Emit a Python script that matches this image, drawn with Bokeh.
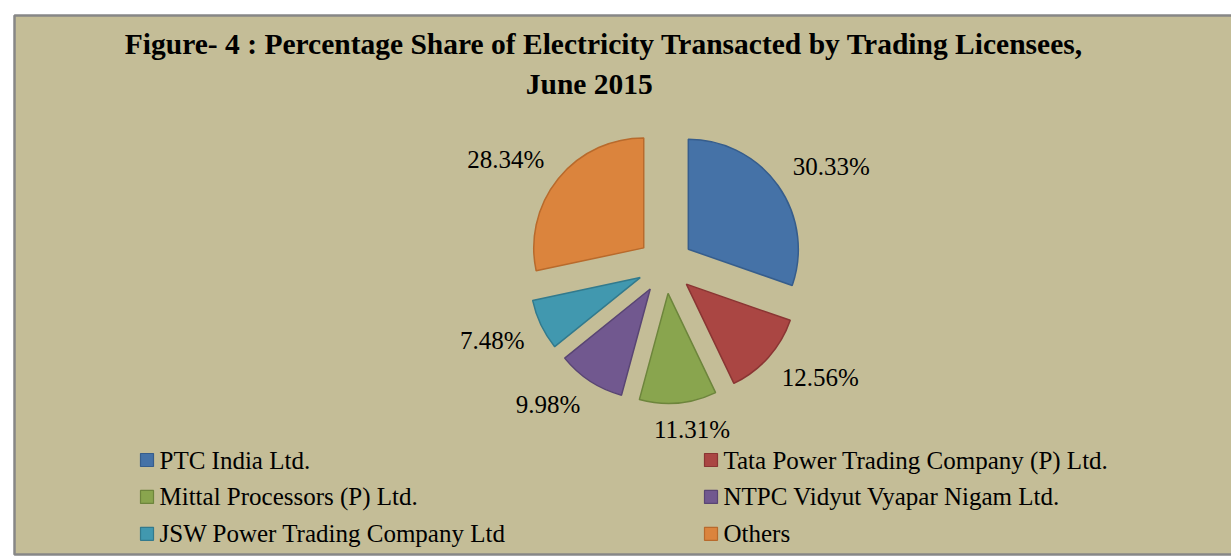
import math
from bokeh.plotting import figure
from bokeh.models import Range1d, ColumnDataSource
from bokeh.core.properties import value
from bokeh.embed import file_html
from bokeh.resources import INLINE

# ---------------- data ----------------
TITLE_LINES = [
    "Figure- 4 : Percentage Share of Electricity Transacted by Trading Licensees,",
    "June  2015",
]
LICENSEES = [
    "PTC India Ltd.",
    "Tata Power Trading Company (P) Ltd.",
    "Mittal Processors (P) Ltd.",
    "NTPC Vidyut Vyapar Nigam Ltd.",
    "JSW Power Trading Company Ltd",
    "Others",
]
SHARES = [30.33, 12.56, 11.31, 9.98, 7.48, 28.34]
FILLS = ["#4572A7", "#AA4643", "#89A54E", "#71588F", "#4198AF", "#DB843D"]
EDGES = ["#365D8C", "#8A3533", "#6D853C", "#594573", "#327A8D", "#B86A2C"]

# ---------------- layout ----------------
W, H = 1231, 556
FONT = "Liberation Serif"
LABEL_PX = 25
TITLE_PX = 29.5
CX, CY = 665.0, -265.0      # pie centre (screen px, y up negative)
R = 110.0                   # pie radius
EXPLODE = 28.0              # slice explosion distance
GAP = 18.0                  # label distance outside the arc

p = figure(width=W, height=H, x_range=Range1d(0, W), y_range=Range1d(-H, 0),
           output_backend="svg", toolbar_location=None, min_border=0,
           x_axis_location=None, y_axis_location=None)
p.grid.visible = False
p.outline_line_color = None
p.background_fill_color = "white"
p.border_fill_color = "white"

# chart area box
p.quad(left=14, right=1260, top=-15, bottom=-554, fill_color="#C4BD97",
       line_color="#878787", line_width=2.5)

# ---------------- pie ----------------
total = sum(SHARES)
xs, ys, starts, ends, mids = [], [], [], [], []
cum = 0.0
for v in SHARES:
    a_start = math.pi / 2 - 2 * math.pi * cum / total
    a_end = math.pi / 2 - 2 * math.pi * (cum + v) / total
    mid = (a_start + a_end) / 2
    xs.append(CX + EXPLODE * math.cos(mid))
    ys.append(CY + EXPLODE * math.sin(mid))
    starts.append(a_end)
    ends.append(a_start)
    mids.append(mid)
    cum += v

p.wedge(x="x", y="y", radius=R, start_angle="s", end_angle="e", fill_color="f",
        line_color="l", line_width=1.5,
        source=ColumnDataSource(dict(x=xs, y=ys, s=starts, e=ends, f=FILLS, l=EDGES)))

# ---------------- data labels ----------------
CHAR_W = {".": 0.25, "%": 0.833}


def text_width(s, px):
    return sum(CHAR_W.get(c, 0.5) for c in s) * px


def clamp(v):
    return max(-1.0, min(1.0, v))


labels = [f"{v:.2f}%" for v in SHARES]
cap = 0.66 * LABEL_PX
lx, ly = [], []
for x0, y0, mid, lab in zip(xs, ys, mids, labels):
    ux, uy = math.cos(mid), math.sin(mid)
    px_ = x0 + (R + GAP) * ux
    py_ = y0 + (R + GAP) * uy
    w = text_width(lab, LABEL_PX)
    lx.append(px_ + w / 2 * clamp(3.5 * ux))
    ly.append(py_ + cap / 2 * clamp(3.5 * uy))

p.text(x="x", y="y", text="t", source=ColumnDataSource(dict(x=lx, y=ly, t=labels)),
       text_font=value(FONT), text_font_size=f"{LABEL_PX}px", text_color="black",
       text_align="center", text_baseline="middle")

# ---------------- title ----------------
p.text(x=[603.5, 592.5], y=[-43, -83], text=TITLE_LINES, text_font=value(FONT),
       text_font_size=f"{TITLE_PX}px", text_font_style="bold", text_color="black",
       text_align="center", text_baseline="middle")

# ---------------- legend ----------------
COL_X = [159, 723]
ROW_Y0, ROW_DY = -459.5, -36.9
tx, ty, mx, my = [], [], [], []
for i, name in enumerate(LICENSEES):
    col, row = i % 2, i // 2
    tx.append(COL_X[col])
    ty.append(ROW_Y0 + row * ROW_DY)
    mx.append(COL_X[col] - 12.5)
    my.append(ROW_Y0 + row * ROW_DY)

p.scatter(x=mx, y=my, marker="square", size=13, fill_color=FILLS, line_color=EDGES,
          line_width=1.2)
p.text(x=tx, y=ty, text=LICENSEES, text_font=value(FONT), text_font_size=f"{LABEL_PX}px",
       text_color="black", text_align="left", text_baseline="middle")

open("out.html", "w").write(file_html(p, INLINE))
